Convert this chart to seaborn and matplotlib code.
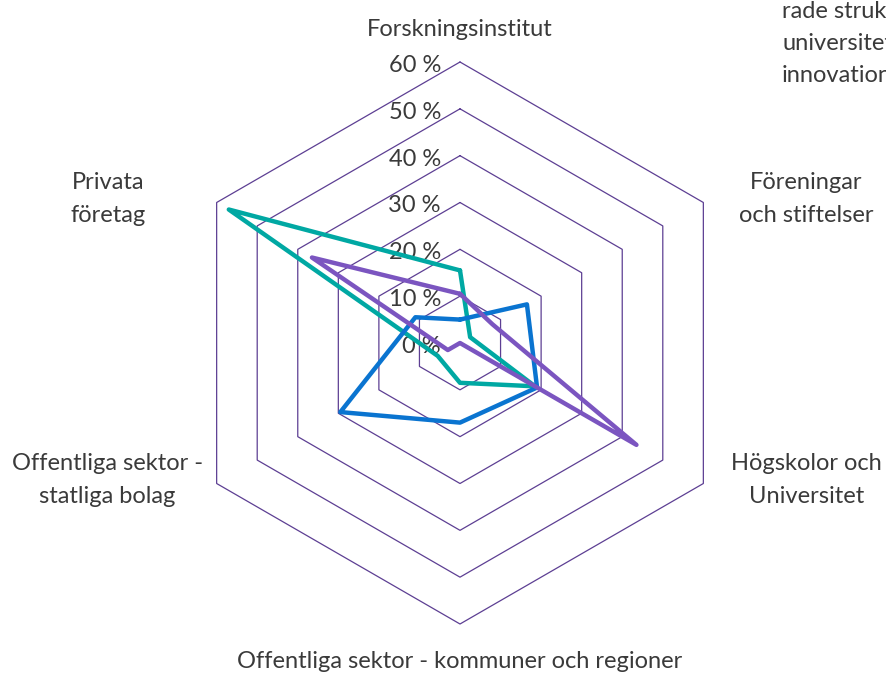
import numpy as np
import pandas as pd
import seaborn as sns
import matplotlib.pyplot as plt

categories = [
    "Forskningsinstitut",
    "Föreningar\noch stiftelser",
    "Högskolor och\nUniversitet",
    "Offentliga sektor - kommuner och regioner",
    "Offentliga sektor -\nstatliga bolag",
    "Privata\nföretag",
]
series_names = ["Serie A", "Serie B", "Serie C"]
teal_values = [15.5, 2.5, 18.5, 8.5, 5.5, 57.0]
blue_values = [5.0, 16.5, 19.0, 17.0, 29.5, 11.0]
purple_values = [10.5, 8.0, 43.5, 0.0, 3.0, 36.5]
ring_values = [0, 10, 20, 30, 40, 50, 60]
ring_labels = ["0 %", "10 %", "20 %", "30 %", "40 %", "50 %", "60 %"]
legend_lines = ["rade struk", "universitet", "innovation"]

colors = ["#00a8a3", "#0a74d0", "#7b55c0"]
grid_color = "#5d3f93"
text_color = "#3a3a3a"

sns.set_theme(style="white")
plt.rcParams["font.family"] = ["Lato", "DejaVu Sans"]

n = len(categories)
theta = np.linspace(0, 2 * np.pi, n, endpoint=False)
theta_closed = np.append(theta, theta[0])

rows = []
for name, vals in zip(series_names, [teal_values, blue_values, purple_values]):
    for i, v in enumerate(list(vals) + [vals[0]]):
        rows.append({"serie": name, "theta": theta_closed[i], "value": v})
df = pd.DataFrame(rows)

W, H = 887, 675
fig = plt.figure(figsize=(W / 100, H / 100), dpi=100)
cx, cy, R = 460, 343, 281
ax = fig.add_axes([(cx - R) / W, (H - cy - R) / H, 2 * R / W, 2 * R / H],
                  projection="polar")
ax.set_theta_zero_location("N")
ax.set_theta_direction(-1)
ax.set_ylim(0, 60)
ax.grid(False)
ax.spines["polar"].set_visible(False)
ax.set_xticks([])
ax.set_yticks([])
ax.patch.set_alpha(0)

# hexagonal grid
for r in ring_values[1:]:
    ax.plot(theta_closed, [r] * (n + 1), color=grid_color, lw=0.9,
            clip_on=False, zorder=1)

sns.lineplot(data=df, x="theta", y="value", hue="serie", hue_order=series_names,
             palette=colors, sort=False, estimator=None, units="serie",
             linewidth=3.2, legend=False, ax=ax, zorder=3)
for line in ax.lines:
    line.set_clip_on(False)
ax.set_xlabel("")
ax.set_ylabel("")

fs = 17
# ring labels
for r, lab in zip(ring_values, ring_labels):
    ax.annotate(lab, xy=(0, r), xytext=(-19, -10), textcoords="offset pixels",
                ha="right", va="baseline", fontsize=fs,
                color=text_color, zorder=2)

# category labels, one line at a time (baseline offsets from the outer vertex)
offsets = [(0, 26), (103, 13.5), (103, 13.5), (0, -44), (-109, 13.5), (-109, 13.5)]
line_step = 33
for t, lab, (dx, dy) in zip(theta, categories, offsets):
    for k, part in enumerate(lab.split("\n")):
        ax.annotate(part, xy=(t, 60), xytext=(dx, dy - k * line_step),
                    textcoords="offset pixels", ha="center", va="baseline",
                    fontsize=fs, color=text_color, annotation_clip=False)

# partially visible legend text at the right edge
for i, txt in enumerate(legend_lines):
    fig.text(782 / W, (H - 18 - 32 * i) / H, txt, ha="left", va="baseline",
             fontsize=fs, color=text_color)

fig.savefig("out.png", dpi=100)
